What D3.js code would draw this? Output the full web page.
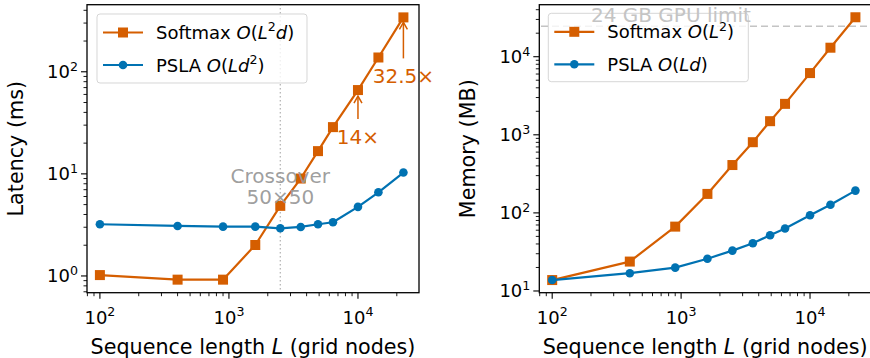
<!DOCTYPE html>
<html>
<head>
<meta charset="utf-8">
<script src="https://cdn.jsdelivr.net/npm/d3@7"></script>
<style>
  body { margin: 0; background: #fff; }
  svg { display: block; font-family: "DejaVu Sans", sans-serif; }
</style>
</head>
<body>
<svg id="chart" width="870" height="358"></svg>
<script>
// grid sizes 10x10 ... 150x150
const seqLen = [100, 400, 900, 1600, 2500, 3600, 4900, 6400, 10000, 14400, 22500];
const softmaxLatency = [1.02, 0.92, 0.92, 2.01, 4.86, 9.0, 16.7, 28.7, 66.2, 138, 341];
const pslaLatency = [3.21, 3.09, 3.04, 3.04, 2.93, 3.02, 3.21, 3.36, 4.75, 6.6, 10.3];
const softmaxMemory = [13.8, 23.8, 66.7, 175, 410, 804, 1494, 2490, 6170, 13040, 32000];
const pslaMemory = [13.8, 16.9, 19.9, 25.9, 32.9, 40.9, 51.8, 63, 93.3, 127, 193];
const xTickVals = [100, 1000, 10000];
const gpuLimitMB = 24576;
const crossoverL = 2500;

const orange = "#d55e00";
const blue = "#0072b2";

const svg = d3.select("#chart");

// write text with italic / superscript runs
function rich(sel, parts, size) {
  let back = 0;
  parts.forEach(p => {
    const [str, kind] = Array.isArray(p) ? p : [p, ""];
    const t = sel.append("tspan").text(str);
    if (kind === "s") {
      t.attr("font-size", size * 0.7).attr("dy", back - size * 0.42);
      back = size * 0.42;
    } else {
      if (back) t.attr("dy", back);
      back = 0;
      if (kind === "i") t.attr("font-style", "italic");
    }
  });
  return sel;
}

function drawPanel(opt) {
  const { left, right, top, bottom, yDomain, yTicks, series, yLabel, legend } = opt;
  const x = d3.scaleLog().domain([Math.pow(10, 1.9), Math.pow(10, 4.473)]).range([left, right]);
  const y = d3.scaleLog().domain(yDomain).range([bottom, top]);
  const g = svg.append("g");

  g.append("defs").append("clipPath").attr("id", opt.id)
    .append("rect").attr("x", left).attr("y", top).attr("width", right - left).attr("height", bottom - top);

  const under = g.append("g").attr("clip-path", `url(#${opt.id})`);
  if (opt.underlay) opt.underlay(under, x, y);

  const line = d3.line().x((d, i) => x(seqLen[i])).y(d => y(d));
  series.forEach(s => {
    const sg = g.append("g");
    sg.append("path").datum(s.values)
      .attr("d", line).attr("fill", "none")
      .attr("stroke", s.color).attr("stroke-width", 2.2).attr("stroke-linejoin", "round");
    if (s.marker === "square") {
      sg.selectAll("rect").data(s.values).join("rect")
        .attr("x", (d, i) => x(seqLen[i]) - 5).attr("y", d => y(d) - 5)
        .attr("width", 10).attr("height", 10).attr("fill", s.color);
    } else {
      sg.selectAll("circle").data(s.values).join("circle")
        .attr("cx", (d, i) => x(seqLen[i])).attr("cy", d => y(d))
        .attr("r", 4.3).attr("fill", s.color);
    }
  });

  if (opt.overlay) opt.overlay(g, x, y);

  // legend
  const lg = g.append("g");
  lg.append("rect").attr("x", legend.x).attr("y", legend.y).attr("width", legend.w).attr("height", legend.h)
    .attr("rx", 3).attr("fill", "white").attr("fill-opacity", 0.8)
    .attr("stroke", "#cccccc").attr("stroke-opacity", 0.8);
  series.forEach((s, k) => {
    const ly = legend.y + 18.5 + k * 32.5;
    const lx = legend.x + 6;
    lg.append("line").attr("x1", lx).attr("x2", lx + 40).attr("y1", ly).attr("y2", ly)
      .attr("stroke", s.color).attr("stroke-width", 2.2);
    if (s.marker === "square") {
      lg.append("rect").attr("x", lx + 15).attr("y", ly - 5).attr("width", 10).attr("height", 10).attr("fill", s.color);
    } else {
      lg.append("circle").attr("cx", lx + 20).attr("cy", ly).attr("r", 4.3).attr("fill", s.color);
    }
    rich(lg.append("text").attr("x", lx + 53).attr("y", ly + 6.5).attr("font-size", 18).attr("fill", "#000"), s.label, 18);
  });
  if (opt.topLayer) opt.topLayer(g, x, y);

  // axes
  const xAxis = g.append("g").attr("transform", `translate(0,${bottom})`);
  const xMinor = x.ticks().filter(v => !xTickVals.includes(v));
  xAxis.selectAll("line.minor").data(xMinor).join("line")
    .attr("x1", d => x(d)).attr("x2", d => x(d)).attr("y1", 0).attr("y2", 3.5)
    .attr("stroke", "#000").attr("stroke-width", 0.9);
  xAxis.selectAll("line.major").data(xTickVals).join("line")
    .attr("x1", d => x(d)).attr("x2", d => x(d)).attr("y1", 0).attr("y2", 6)
    .attr("stroke", "#000").attr("stroke-width", 1.1);
  xAxis.selectAll("text").data(xTickVals).join("text")
    .attr("x", d => x(d)).attr("y", 31).attr("text-anchor", "middle").attr("font-size", 18)
    .each(function(d) { rich(d3.select(this), ["10", [String(Math.round(Math.log10(d))), "s"]], 18); });

  const yAxis = g.append("g").attr("transform", `translate(${left},0)`);
  const yMinor = y.ticks().filter(v => !yTicks.includes(v));
  yAxis.selectAll("line.minor").data(yMinor).join("line")
    .attr("x1", 0).attr("x2", -3.5).attr("y1", d => y(d)).attr("y2", d => y(d))
    .attr("stroke", "#000").attr("stroke-width", 0.9);
  yAxis.selectAll("line.major").data(yTicks).join("line")
    .attr("x1", 0).attr("x2", -6).attr("y1", d => y(d)).attr("y2", d => y(d))
    .attr("stroke", "#000").attr("stroke-width", 1.1);
  yAxis.selectAll("text").data(yTicks).join("text")
    .attr("x", -9).attr("y", d => y(d) + 6.5).attr("text-anchor", "end").attr("font-size", 18)
    .each(function(d) { rich(d3.select(this), ["10", [String(Math.round(Math.log10(d))), "s"]], 18); });

  g.append("rect").attr("x", left).attr("y", top).attr("width", right - left).attr("height", bottom - top)
    .attr("fill", "none").attr("stroke", "#000").attr("stroke-width", 1.3);

  rich(g.append("text").attr("x", (left + right) / 2).attr("y", 354).attr("text-anchor", "middle").attr("font-size", 20.7),
    ["Sequence length ", ["L", "i"], " (grid nodes)"], 20.7);
  g.append("text").attr("transform", `translate(${opt.yLabelX},${(top + bottom) / 2}) rotate(-90)`)
    .attr("text-anchor", "middle").attr("font-size", 20.7).text(yLabel);
}

function arrow(g, x0, y0, x1, y1) {
  g.append("line").attr("x1", x0).attr("y1", y0).attr("x2", x1).attr("y2", y1)
    .attr("stroke", orange).attr("stroke-width", 1.5);
  g.append("path").attr("d", `M${x1 - 4},${y1 + 7} L${x1},${y1} L${x1 + 4},${y1 + 7}`)
    .attr("fill", "none").attr("stroke", orange).attr("stroke-width", 1.5);
}

drawPanel({
  id: "clipL", left: 87, right: 419, top: 4.7, bottom: 292.7,
  yDomain: [Math.pow(10, -0.164), Math.pow(10, 2.657)], yTicks: [1, 10, 100],
  yLabel: "Latency (ms)", yLabelX: 23,
  legend: { x: 97, y: 14, w: 210, h: 69 },
  series: [
    { values: softmaxLatency, color: orange, marker: "square", label: ["Softmax ", ["O", "i"], "(", ["L", "i"], ["2", "s"], ["d", "i"], ")"] },
    { values: pslaLatency, color: blue, marker: "circle", label: ["PSLA ", ["O", "i"], "(", ["L", "i"], ["d", "i"], ["2", "s"], ")"] }
  ],
  underlay: (g, x, y) => {
    g.append("line").attr("x1", x(crossoverL)).attr("x2", x(crossoverL)).attr("y1", 0).attr("y2", 300)
      .attr("stroke", "#b0b0b0").attr("stroke-width", 1.2).attr("stroke-dasharray", "1.5,2.5");
  },
  overlay: (g, x, y) => {
    const cx = x(crossoverL);
    g.append("text").attr("x", cx).attr("y", y(5.05)).attr("text-anchor", "middle")
      .attr("font-size", 20).attr("fill", "#999").attr("fill-opacity", 0.95).text("50\u00d750");
    g.append("text").attr("x", cx).attr("y", y(5.05) - 21).attr("text-anchor", "middle")
      .attr("font-size", 20).attr("fill", "#999").attr("fill-opacity", 0.95).text("Crossover");
    const i14 = seqLen.indexOf(10000), iLast = seqLen.length - 1;
    const p14 = y(softmaxLatency[i14]);
    arrow(g, x(10000), p14 + 29, x(10000), p14 + 6);
    g.append("text").attr("x", x(10000)).attr("y", p14 + 54).attr("text-anchor", "middle")
      .attr("font-size", 20).attr("fill", orange).text("14\u00d7");
    const pL = y(softmaxLatency[iLast]);
    arrow(g, x(22500), pL + 41, x(22500), pL + 5);
    g.append("text").attr("x", x(22500)).attr("y", pL + 66).attr("text-anchor", "middle")
      .attr("font-size", 20).attr("fill", orange).text("32.5\u00d7");
  }
});

drawPanel({
  id: "clipR", left: 539.3, right: 871, top: 4.7, bottom: 292.7,
  yDomain: [Math.pow(10, 0.978), Math.pow(10, 4.666)], yTicks: [10, 100, 1000, 10000],
  yLabel: "Memory (MB)", yLabelX: 475,
  legend: { x: 548.3, y: 13.3, w: 200, h: 68.4 },
  series: [
    { values: softmaxMemory, color: orange, marker: "square", label: ["Softmax ", ["O", "i"], "(", ["L", "i"], ["2", "s"], ")"] },
    { values: pslaMemory, color: blue, marker: "circle", label: ["PSLA ", ["O", "i"], "(", ["L", "i"], ["d", "i"], ")"] }
  ],
  underlay: (g, x, y) => {
    g.append("line").attr("x1", 530).attr("x2", 880).attr("y1", y(gpuLimitMB)).attr("y2", y(gpuLimitMB))
      .attr("stroke", "#c4c4c4").attr("stroke-width", 1.4).attr("stroke-dasharray", "7,4");
  },
  topLayer: (g, x, y) => {
    g.append("text").attr("x", x(200)).attr("y", y(gpuLimitMB) - 4).attr("font-size", 20)
      .attr("fill", "#c4c4c4").text("24 GB GPU limit");
  }
});
</script>
</body>
</html>
